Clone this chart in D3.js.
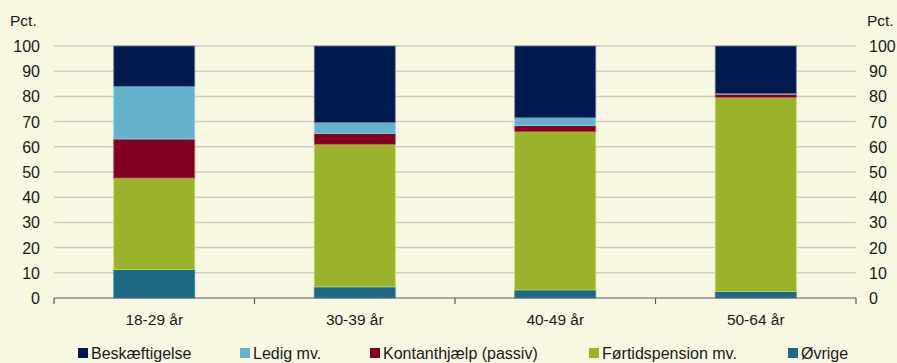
<!DOCTYPE html>
<html lang="da">
<head>
  <meta charset="UTF-8">
  <title>Aldersgrupper</title>
  <script src="https://d3js.org/d3.v7.min.js"></script>
  <style>
    body { margin: 0; background: #f8f7e2; }
    svg { display: block; font-family: "Liberation Sans", Arial, sans-serif; }
  </style>
</head>
<body>
  <svg id="chart" width="897" height="363"></svg>
  <script>
    // data
    var categories = ["18-29 år", "30-39 år", "40-49 år", "50-64 år"]
    var seriesNames = ["Øvrige", "Førtidspension mv.", "Kontanthjælp (passiv)", "Ledig mv.", "Beskæftigelse"]
    var ovrige = [11.3, 4.4, 3.2, 2.6]
    var fortid = [36.3, 56.6, 62.8, 77.0]
    var kontant = [15.5, 4.3, 2.4, 1.3]
    var ledig = [20.9, 4.3, 3.1, 0.2]
    var beskaeft = [16.0, 30.4, 28.5, 18.9]
    var yTicks = [0, 10, 20, 30, 40, 50, 60, 70, 80, 90, 100]
    var legendOrder = ["Beskæftigelse", "Ledig mv.", "Kontanthjælp (passiv)", "Førtidspension mv.", "Øvrige"]

    var colors = {
      "Beskæftigelse": "#00194f",
      "Ledig mv.": "#66b2cd",
      "Kontanthjælp (passiv)": "#800022",
      "Førtidspension mv.": "#9bb22d",
      "Øvrige": "#1b6985"
    }
    var edge = {
      "Beskæftigelse": "#6b7a96",
      "Ledig mv.": "#86d4ec",
      "Kontanthjælp (passiv)": "#c05060",
      "Førtidspension mv.": "#c4dc5a",
      "Øvrige": "#3c8aa8"
    }

    function draw() {
      var svg = d3.select("#chart")
      var plotLeft = 54, plotRight = 856, plotTop = 46, plotBottom = 298

      var x = d3.scaleBand().domain(categories).range([plotLeft, plotRight])
      var y = d3.scaleLinear().domain([0, 100]).range([plotBottom, plotTop])

      var table = categories.map(function (c, i) {
        return {
          cat: c,
          "Øvrige": ovrige[i],
          "Førtidspension mv.": fortid[i],
          "Kontanthjælp (passiv)": kontant[i],
          "Ledig mv.": ledig[i],
          "Beskæftigelse": beskaeft[i]
        }
      })
      var stacked = d3.stack().keys(seriesNames)(table)

      // gridlines
      svg.append("g")
        .selectAll("line")
        .data(yTicks.filter(function (d) { return d > 0 }))
        .enter()
        .append("line")
        .attr("x1", plotLeft)
        .attr("x2", plotRight)
        .attr("y1", function (d) { return y(d) })
        .attr("y2", function (d) { return y(d) })
        .style("stroke", "#cfcdbf")
        .style("stroke-width", 1.5)

      // bars
      var barW = 81
      svg.append("g")
        .selectAll("g")
        .data(stacked)
        .enter()
        .append("g")
        .each(function (s) {
          d3.select(this).selectAll("rect")
            .data(s)
            .enter()
            .append("rect")
            .attr("x", function (d) { return x(d.data.cat) + x.bandwidth() / 2 - barW / 2 })
            .attr("width", barW)
            .attr("y", function (d) { return y(Math.min(d[1], 100)) })
            .attr("height", function (d) { return Math.max(0, y(d[0]) - y(Math.min(d[1], 100))) })
            .style("fill", colors[s.key])
            .style("stroke", edge[s.key])
            .style("stroke-width", 0.8)
        })

      // x axis
      var xAxis = svg.append("g")
      xAxis.append("line")
        .attr("x1", plotLeft).attr("x2", plotRight)
        .attr("y1", plotBottom).attr("y2", plotBottom)
        .style("stroke", "#5a5a5a").style("stroke-width", 1.2)
      xAxis.selectAll(".tick")
        .data(d3.range(categories.length + 1))
        .enter()
        .append("line")
        .attr("x1", function (i) { return plotLeft + i * x.bandwidth() })
        .attr("x2", function (i) { return plotLeft + i * x.bandwidth() })
        .attr("y1", plotBottom)
        .attr("y2", plotBottom + 6)
        .style("stroke", "#5a5a5a").style("stroke-width", 1.2)
      xAxis.selectAll("text")
        .data(categories)
        .enter()
        .append("text")
        .attr("x", function (d) { return x(d) + x.bandwidth() / 2 })
        .attr("y", plotBottom + 27)
        .attr("text-anchor", "middle")
        .style("font-size", "15.5px")
        .style("fill", "#1a1a1a")
        .text(function (d) { return d })

      // y labels both sides
      svg.append("g")
        .selectAll("text")
        .data(yTicks)
        .enter()
        .append("text")
        .attr("x", 40)
        .attr("y", function (d) { return y(d) + 6 })
        .attr("text-anchor", "end")
        .style("font-size", "16px")
        .style("fill", "#1a1a1a")
        .text(function (d) { return d })

      svg.append("g")
        .selectAll("text")
        .data(yTicks)
        .enter()
        .append("text")
        .attr("x", 869)
        .attr("y", function (d) { return y(d) + 6 })
        .attr("text-anchor", "start")
        .style("font-size", "16px")
        .style("fill", "#1a1a1a")
        .text(function (d) { return d })

      svg.append("text").attr("x", 10).attr("y", 26)
        .style("font-size", "15.5px").style("fill", "#1a1a1a").text("Pct.")
      svg.append("text").attr("x", 867).attr("y", 26)
        .style("font-size", "15.5px").style("fill", "#1a1a1a").text("Pct.")

      // legend
      var legendX = [78, 240, 370, 589, 788]
      var lg = svg.append("g")
        .selectAll("g")
        .data(legendOrder)
        .enter()
        .append("g")
        .attr("transform", function (d, i) { return "translate(" + legendX[i] + ",348)" })
      lg.append("rect")
        .attr("width", 10).attr("height", 10)
        .style("fill", function (d) { return colors[d] })
      lg.append("text")
        .attr("x", 13).attr("y", 11)
        .style("font-size", "16px")
        .style("fill", "#1a1a1a")
        .text(function (d) { return d })
    }

    draw()
  </script>
</body>
</html>
